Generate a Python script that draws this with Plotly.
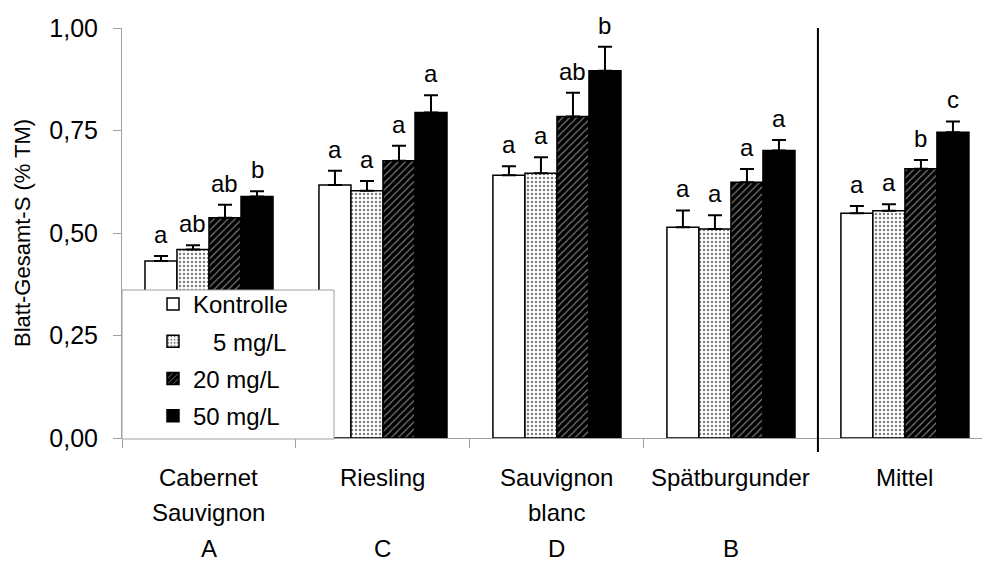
import plotly.graph_objects as go

# ---- data ----
categories = ["Cabernet Sauvignon", "Riesling", "Sauvignon blanc", "Spätburgunder", "Mittel"]
label_line1 = ["Cabernet", "Riesling", "Sauvignon", "Spätburgunder", "Mittel"]
label_line2 = ["Sauvignon", "", "blanc", "", ""]
group_letters = ["A", "C", "D", "B", ""]

series_names = ["Kontrolle", "\u00a0\u00a0\u00a05 mg/L", "20 mg/L", "50 mg/L"]

kontrolle = [0.432, 0.617, 0.641, 0.514, 0.548]
mg5 = [0.460, 0.603, 0.646, 0.510, 0.554]
mg20 = [0.537, 0.676, 0.784, 0.624, 0.657]
mg50 = [0.589, 0.794, 0.896, 0.701, 0.746]

err_kontrolle = [0.012, 0.035, 0.022, 0.041, 0.018]
err_mg5 = [0.010, 0.024, 0.039, 0.033, 0.016]
err_mg20 = [0.032, 0.037, 0.058, 0.032, 0.021]
err_mg50 = [0.013, 0.042, 0.058, 0.026, 0.026]

sig_kontrolle = ["a", "a", "a", "a", "a"]
sig_mg5 = ["ab", "a", "a", "a", "a"]
sig_mg20 = ["ab", "a", "ab", "a", "b"]
sig_mg50 = ["b", "a", "b", "a", "c"]

y_ticks = [0, 0.25, 0.5, 0.75, 1.0]

# ---- styling ----
FONT = "Liberation Sans, Arial, sans-serif"
W, H = 982, 563
ML, MR, MT, MB = 122, 0, 28, 125
BARGAP = 0.264
XMAX = 4.443

values = [kontrolle, mg5, mg20, mg50]
errors = [err_kontrolle, err_mg5, err_mg20, err_mg50]
sigs = [sig_kontrolle, sig_mg5, sig_mg20, sig_mg50]
markers = [
    dict(color="white", line=dict(color="black", width=1.5)),
    dict(color="white", line=dict(color="black", width=1.5),
         pattern=dict(shape=".", fgcolor="black", bgcolor="white", size=4, solidity=0.3)),
    dict(color="black", line=dict(color="black", width=1.5),
         pattern=dict(shape="/", fgcolor="white", bgcolor="black", size=5, solidity=0.22)),
    dict(color="black", line=dict(color="black", width=1.5)),
]

fig = go.Figure()
for name, vals, errs, mk in zip(series_names, values, errors, markers):
    fig.add_trace(go.Bar(
        x=categories, y=vals, name=name, marker=mk, legendgroup=name,
        error_y=dict(type="data", symmetric=False, array=errs,
                     arrayminus=[0] * len(errs), color="black", thickness=2, width=7),
    ))

plot_w = W - ML - MR
cat_px = plot_w / (XMAX + 0.5)
bar_px = cat_px * (1 - BARGAP) / len(series_names)

annotations = []
# significance letters
for si, (vals, errs, letters) in enumerate(zip(values, errors, sigs)):
    shift = (si - (len(series_names) - 1) / 2) * bar_px
    for cat, v, e, t in zip(categories, vals, errs, letters):
        annotations.append(dict(x=cat, y=v + e, xref="x", yref="y", text=t,
                                showarrow=False, yanchor="bottom", xshift=shift, yshift=6,
                                font=dict(size=24, color="black", family=FONT)))

# category labels (two lines) and group letters
def py(pix):
    return (H - MB - pix) / (H - MT - MB)

for cat, l1, l2, g in zip(categories, label_line1, label_line2, group_letters):
    for txt, pix in ((l1, 477), (l2, 512), (g, 548)):
        if txt:
            annotations.append(dict(x=cat, y=py(pix), xref="x", yref="paper", text=txt,
                                    showarrow=False, yanchor="middle",
                                    font=dict(size=24, color="black", family=FONT)))

# y-axis title
annotations.append(dict(x=-(ML - 22) / plot_w, y=0.5, xref="paper", yref="paper",
                        text="Blatt-Gesamt-S (% TM)", textangle=-90, showarrow=False,
                        xanchor="center", yanchor="middle",
                        font=dict(size=22, color="black", family=FONT)))

shapes = [
    # legend box
    dict(type="rect", xref="paper", yref="paper", x0=0.0, x1=(334 - ML) / plot_w,
         y0=py(439), y1=py(290), fillcolor="white", line=dict(color="#a0a0a0", width=1),
         layer="above"),
    # separator before "Mittel"
    dict(type="line", xref="x", yref="paper", x0=len(categories) - 1.5, x1=len(categories) - 1.5,
         y0=py(452), y1=1.0, line=dict(color="black", width=2), layer="above"),
]

fig.update_layout(
    width=W, height=H,
    margin=dict(l=ML, r=MR, t=MT, b=MB, pad=0),
    paper_bgcolor="white", plot_bgcolor="white",
    font=dict(family=FONT, size=24, color="black"),
    separators=",.",
    barmode="group", bargap=BARGAP, bargroupgap=0,
    showlegend=True,
    legend=dict(x=(153 - ML) / plot_w, y=py(282), xanchor="left", yanchor="top",
                bgcolor="rgba(0,0,0,0)", borderwidth=0, tracegroupgap=3,
                font=dict(size=24, family=FONT, color="black")),
    annotations=annotations,
    shapes=shapes,
)
fig.update_xaxes(
    type="category", range=[-0.5, XMAX], showticklabels=False,
    showline=True, linecolor="#a0a0a0", linewidth=1,
    ticks="outside", tickson="boundaries", ticklen=9, tickcolor="#a0a0a0",
    showgrid=False, zeroline=False, fixedrange=True,
)
fig.update_yaxes(
    range=[0, 1], tickvals=y_ticks, tickformat=".2f",
    showline=True, linecolor="#a0a0a0", linewidth=1,
    ticks="outside", ticklen=8, tickcolor="#a0a0a0", ticklabelstandoff=10,
    tickfont=dict(size=25, family=FONT, color="black"),
    showgrid=False, zeroline=False, fixedrange=True,
)

fig.write_html("out.html", config={"displayModeBar": False},
               post_script="document.body.style.margin='0';")
